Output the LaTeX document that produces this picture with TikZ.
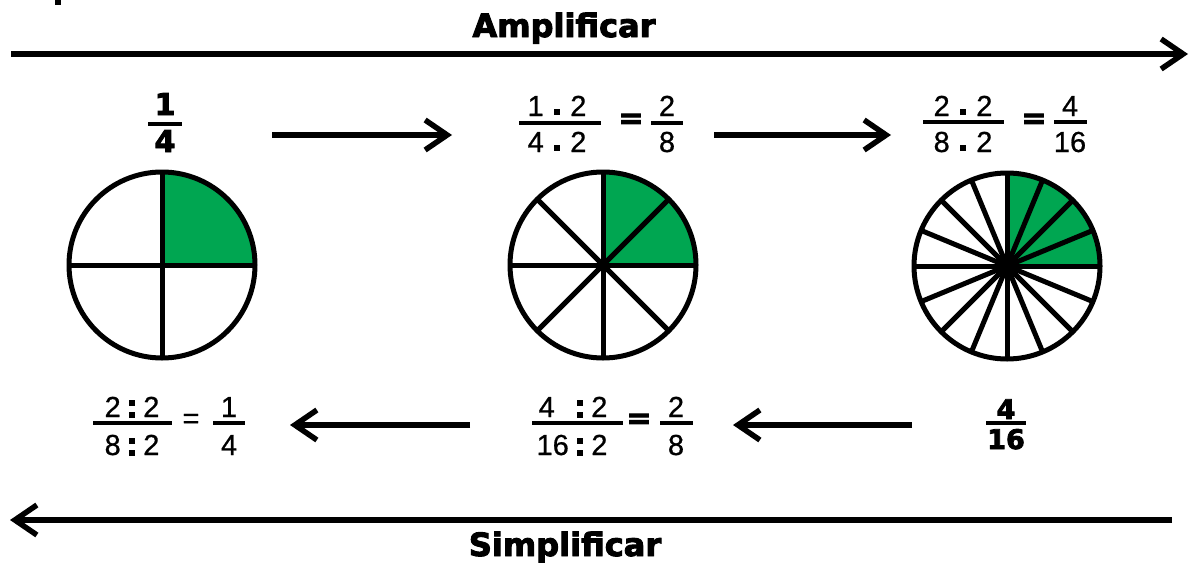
\documentclass[tikz,border=0pt]{standalone}
\usepackage{fontspec}
\setmainfont{Liberation Sans}[UprightFeatures={FakeBold=0.7}]
\newfontfamily\heavy{DejaVu Sans}[BoldFeatures={FakeBold=3}]
\usetikzlibrary{arrows.meta}
\definecolor{pgreen}{RGB}{0,166,81}
\newcommand\md{\hspace{10pt}\rule[1pt]{6.5pt}{6.5pt}\hspace{10pt}}
\newcommand\dv{\hspace{8pt}\rlap{\rule[11pt]{6.5pt}{6.5pt}}\rule[-1pt]{6.5pt}{6.5pt}\hspace{8pt}}
\begin{document}
\begin{tikzpicture}[x=1pt,y=-1pt,
  num/.style={inner sep=0pt, anchor=base, font=\fontsize{29}{29}\selectfont},
  bnum/.style={inner sep=0pt, anchor=base, font=\heavy\bfseries\fontsize{30}{30}\selectfont},
  bnums/.style={inner sep=0pt, anchor=base, font=\heavy\bfseries\fontsize{27}{27}\selectfont},
  eqb/.style={inner sep=0pt, anchor=center, font=\heavy\bfseries\fontsize{30}{30}\selectfont},
  eqr/.style={inner sep=0pt, anchor=center, font=\fontsize{29}{29}\selectfont},
  title/.style={inner sep=0pt, anchor=base, font=\heavy\bfseries\fontsize{32}{32}\selectfont},
  bar/.style={line width=4pt},
  arr/.style={line width=5.5pt, -{Straight Barb[length=22pt,width=30pt]}},
  pie/.style={line width=5pt},
]
\useasboundingbox (0,0) rectangle (1190,562);
% fragment at top left
\fill (55,0) rectangle (61,5);
% titles
\node[title] (amp) at (564,37) {Amplificar};
\node[title] (simp) at (565,556) {Simplificar};
% big arrows
\coordinate (ta) at (11,54);
\coordinate (tb) at (1188,54);
\draw[arr] (ta) -- (tb);
\coordinate (ba) at (1172,520);
\coordinate (bb) at (10,520);
\draw[arr] (ba) -- (bb);
% small arrows
\coordinate (s1a) at (272,135); \coordinate (s1b) at (452,135);
\draw[arr] (s1a) -- (s1b);
\coordinate (s2a) at (714,135); \coordinate (s2b) at (891,135);
\draw[arr] (s2a) -- (s2b);
\coordinate (s3a) at (470,425); \coordinate (s3b) at (290,425);
\draw[arr] (s3a) -- (s3b);
\coordinate (s4a) at (912,425); \coordinate (s4b) at (733,425);
\draw[arr] (s4a) -- (s4b);
% pies
\coordinate (p1) at (162,265);
\fill[pgreen] (p1) -- ++(0:93) arc[start angle=0,end angle=-90,radius=93] -- cycle;
\foreach \a in {0,90,...,270} \draw[pie] (p1) -- ++(\a:93);
\draw[pie] (p1) circle[radius=93];
\coordinate (p2) at (603,265);
\fill[pgreen] (p2) -- ++(0:93) arc[start angle=0,end angle=-90,radius=93] -- cycle;
\foreach \a in {0,45,...,315} \draw[pie] (p2) -- ++(\a:93);
\draw[pie] (p2) circle[radius=93];
\coordinate (p3) at (1007,266);
\fill[pgreen] (p3) -- ++(0:93) arc[start angle=0,end angle=-90,radius=93] -- cycle;
\foreach \a in {0,22.5,...,350} \draw[pie] (p3) -- ++(\a:93);
\draw[pie] (p3) circle[radius=93];
% top fractions
\node[bnum] (a1n) at (165,115) {1};
\node[bnum] (a1d) at (165,152) {4};
\draw[bar] (148,124) -- (182,124);
\node[num] (b1n) at (557,116) {1\md 2};
\node[num] (b1d) at (557,152) {4\md 2};
\draw[bar] (519,123) -- (601,123);
\node[eqb] (b1e) at (631,121) {=};
\node[num] (b2n) at (667,116) {2};
\node[num] (b2d) at (667,152) {8};
\draw[bar] (651,123) -- (683,123);
\node[num] (c1n) at (963,116) {2\md 2};
\node[num] (c1d) at (963,152) {8\md 2};
\draw[bar] (923,122) -- (1004,122);
\node[eqb] (c1e) at (1034,121) {=};
\node[num] (c2n) at (1070,116) {4};
\node[num] (c2d) at (1070,152) {16};
\draw[bar] (1054,122) -- (1087,122);
% bottom fractions
\node[num] (d1n) at (132,417) {2\dv 2};
\node[num] (d1d) at (132,455) {8\dv 2};
\draw[bar] (93,423) -- (172,423);
\node[eqr] (d1e) at (191,421) {=};
\node[num] (d2n) at (229,417) {1};
\node[num] (d2d) at (229,455) {4};
\draw[bar] (213,423) -- (245,423);
\node[num] (e1n) at (573,417) {4\hspace{14pt}\dv 2};
\node[num] (e1d) at (572,455) {16\dv 2};
\draw[bar] (532,423) -- (623,423);
\node[eqb] (e1e) at (639,421) {=};
\node[num] (e2n) at (676,417) {2};
\node[num] (e2d) at (676,455) {8};
\draw[bar] (660,423) -- (693,423);
\node[bnums] (f1n) at (1006,419) {4};
\node[bnums] (f1d) at (1006,449) {16};
\draw[bar] (986,423) -- (1026,423);
\end{tikzpicture}
\end{document}
